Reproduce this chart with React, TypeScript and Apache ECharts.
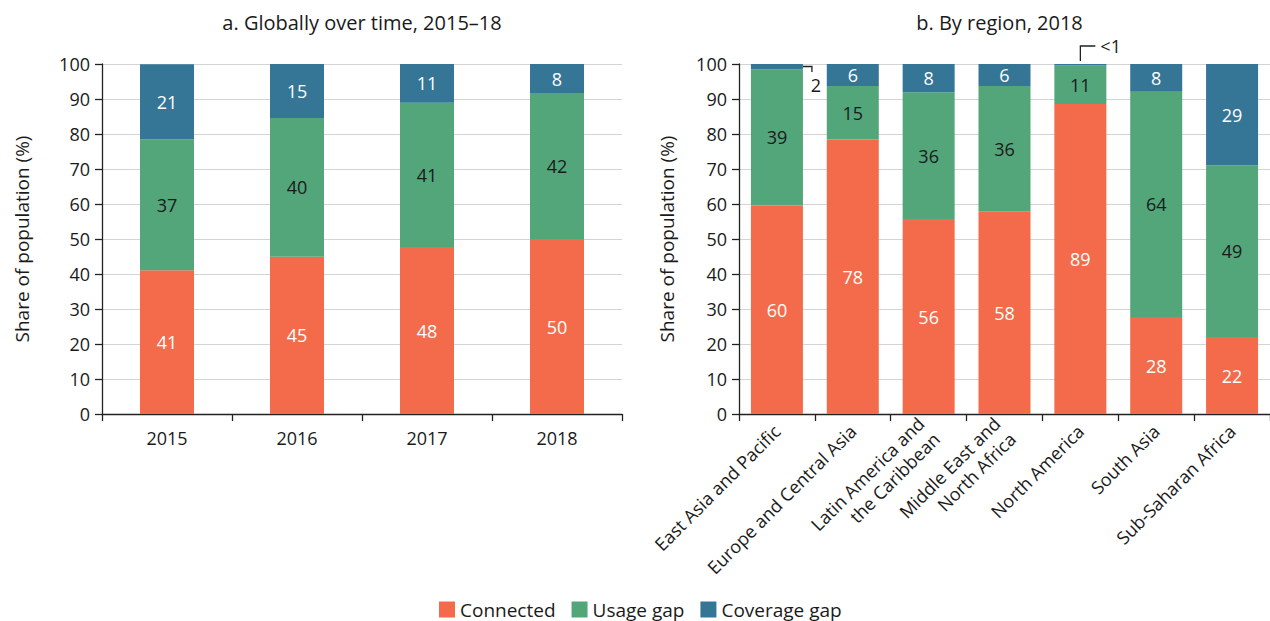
import React, { useEffect, useRef } from 'react';
import * as echarts from 'echarts';

const years = ['2015', '2016', '2017', '2018'];
const globalConnected = [41.1, 44.9, 47.7, 50.0];
const globalUsage = [37.4, 39.7, 41.2, 41.7];
const globalCoverage = [21.4, 15.4, 11.1, 8.3];

const regions = [
  'East Asia and Pacific',
  'Europe and Central Asia',
  'Latin America and\nthe Caribbean',
  'Middle East and\nNorth Africa',
  'North America',
  'South Asia',
  'Sub-Saharan Africa',
];
const regionConnected = [59.6, 78.4, 55.7, 57.9, 88.6, 27.7, 22.0];
const regionUsage = [38.9, 15.3, 36.2, 35.8, 11.0, 64.4, 49.1];
const regionCoverage = [1.5, 6.3, 8.1, 6.3, 0.4, 7.9, 28.9];

const seriesNames = ['Connected', 'Usage gap', 'Coverage gap'];
const titles = ['a. Globally over time, 2015–18', 'b. By region, 2018'];
const yAxisName = 'Share of population (%)';

const ORANGE = '#F36B4A';
const GREEN = '#53A67A';
const BLUE = '#357596';
const FONT = '"Open Sans", Lato, sans-serif';
const TXT = '#1a1a1a';

const fmt = (v: number) => (v < 1 ? '<1' : String(Math.round(v)));

export default function App() {
  const ref = useRef<HTMLDivElement>(null);
  useEffect(() => {
    if (!ref.current) return;
    const chart = echarts.init(ref.current, undefined, { renderer: 'svg' });

    const yAxisBase = (gridIndex: number, nameGap: number) => ({
      type: 'value',
      gridIndex,
      min: 0,
      max: 100,
      interval: 10,
      name: yAxisName,
      nameLocation: 'middle',
      nameRotate: 90,
      nameGap,
      nameTextStyle: { fontSize: 19, color: TXT, fontFamily: FONT },
      axisLine: { show: true, lineStyle: { color: '#222', width: 1.3 } },
      axisTick: { show: true, length: 7, lineStyle: { color: '#222', width: 1.3 } },
      axisLabel: { fontSize: 18, color: TXT, fontFamily: FONT, margin: 12 },
      splitLine: { show: true, lineStyle: { color: '#d4d4d4', width: 1.2 } },
    });
    const xAxisBase = (gridIndex: number, data: string[], rotate: number) => ({
      type: 'category',
      gridIndex,
      data,
      axisLine: { show: true, lineStyle: { color: '#222', width: 1.3 } },
      axisTick: { show: true, length: 7, alignWithLabel: false, lineStyle: { color: '#222', width: 1.3 } },
      axisLabel: {
        fontSize: 18,
        color: TXT,
        fontFamily: FONT,
        margin: rotate ? 14 : 13,
        rotate,
        interval: 0,
        lineHeight: 22,
      },
    });

    const mk = (
      name: string,
      data: number[],
      color: string,
      labelColor: string,
      idx: number,
      stack: string,
      barWidth: number,
      hideSmall: boolean
    ) => ({
      type: 'bar',
      name,
      stack,
      xAxisIndex: idx,
      yAxisIndex: idx,
      barWidth,
      itemStyle: { color },
      label: {
        show: true,
        position: 'inside',
        color: labelColor,
        fontSize: 18,
        fontFamily: FONT,
        formatter: (p: any) => fmt(p.value),
      },
      data: data.map((v) =>
        hideSmall && v < 3 ? { value: v, label: { show: false } } : v
      ),
    });

    const option: any = {
      animation: false,
      textStyle: { fontFamily: FONT },
      grid: [
        { left: 102, top: 64, width: 520, height: 350 },
        { left: 739, top: 64, width: 537, height: 350 },
      ],
      xAxis: [xAxisBase(0, years, 0), xAxisBase(1, regions, 45)],
      yAxis: [yAxisBase(0, 71), yAxisBase(1, 63)],
      legend: {
        data: seriesNames,
        left: 434,
        top: 595,
        itemWidth: 16,
        itemHeight: 16,
        itemGap: 16,
        itemTextGap: 6,
        icon: 'rect',
        textStyle: { fontSize: 19, color: TXT, fontFamily: FONT },
      },
      series: [
        mk(seriesNames[0], globalConnected, ORANGE, '#fff', 0, 'a', 54, false),
        mk(seriesNames[1], globalUsage, GREEN, TXT, 0, 'a', 54, false),
        mk(seriesNames[2], globalCoverage, BLUE, '#fff', 0, 'a', 54, false),
        mk(seriesNames[0], regionConnected, ORANGE, '#fff', 1, 'b', 52, true),
        mk(seriesNames[1], regionUsage, GREEN, TXT, 1, 'b', 52, true),
        mk(seriesNames[2], regionCoverage, BLUE, '#fff', 1, 'b', 52, true),
      ],
    };
    chart.setOption(option);

    const lineStyle = { stroke: '#222', lineWidth: 1.3, fill: 'none' };
    const ea = chart.convertToPixel({ gridIndex: 1 } as any, [regions[0], 100]) as number[];
    const na = chart.convertToPixel({ gridIndex: 1 } as any, [regions[4], 100]) as number[];
    const g0 = chart.convertToPixel({ gridIndex: 0 } as any, [years[0], 100]) as number[];
    const g0b = chart.convertToPixel({ gridIndex: 0 } as any, [years[3], 100]) as number[];
    const g1b = chart.convertToPixel({ gridIndex: 1 } as any, [regions[6], 100]) as number[];
    const leftMid = (g0[0] + g0b[0]) / 2;
    const rightMid = (ea[0] + g1b[0]) / 2 - 5;
    const xr = ea[0] + 26;
    chart.setOption({
      graphic: [
        {
          type: 'text',
          x: leftMid,
          y: 22,
          style: { text: titles[0], fontSize: 20, fill: TXT, fontFamily: FONT, textAlign: 'center', textVerticalAlign: 'middle' },
        },
        {
          type: 'text',
          x: rightMid,
          y: 22,
          style: { text: titles[1], fontSize: 20, fill: TXT, fontFamily: FONT, textAlign: 'center', textVerticalAlign: 'middle' },
        },
        {
          type: 'polyline',
          shape: { points: [[xr, ea[1] + 2.5], [xr + 9, ea[1] + 2.5], [xr + 9, ea[1] + 8]] },
          style: lineStyle,
        },
        {
          type: 'text',
          x: xr + 13,
          y: ea[1] + 21,
          style: { text: fmt(regionCoverage[0]), fontSize: 18, fill: TXT, fontFamily: FONT, textAlign: 'center', textVerticalAlign: 'middle' },
        },
        {
          type: 'polyline',
          shape: { points: [[na[0], na[1] - 3], [na[0], na[1] - 18], [na[0] + 15, na[1] - 18]] },
          style: lineStyle,
        },
        {
          type: 'text',
          x: na[0] + 20,
          y: na[1] - 18,
          style: { text: fmt(regionCoverage[4]), fontSize: 18, fill: TXT, fontFamily: FONT, textAlign: 'left', textVerticalAlign: 'middle' },
        },
      ],
    });

    return () => chart.dispose();
  }, []);
  return (
    <div
      ref={ref}
      style={{ position: 'fixed', left: 0, top: 0, width: 1270, height: 621, background: '#fff' }}
    />
  );
}
